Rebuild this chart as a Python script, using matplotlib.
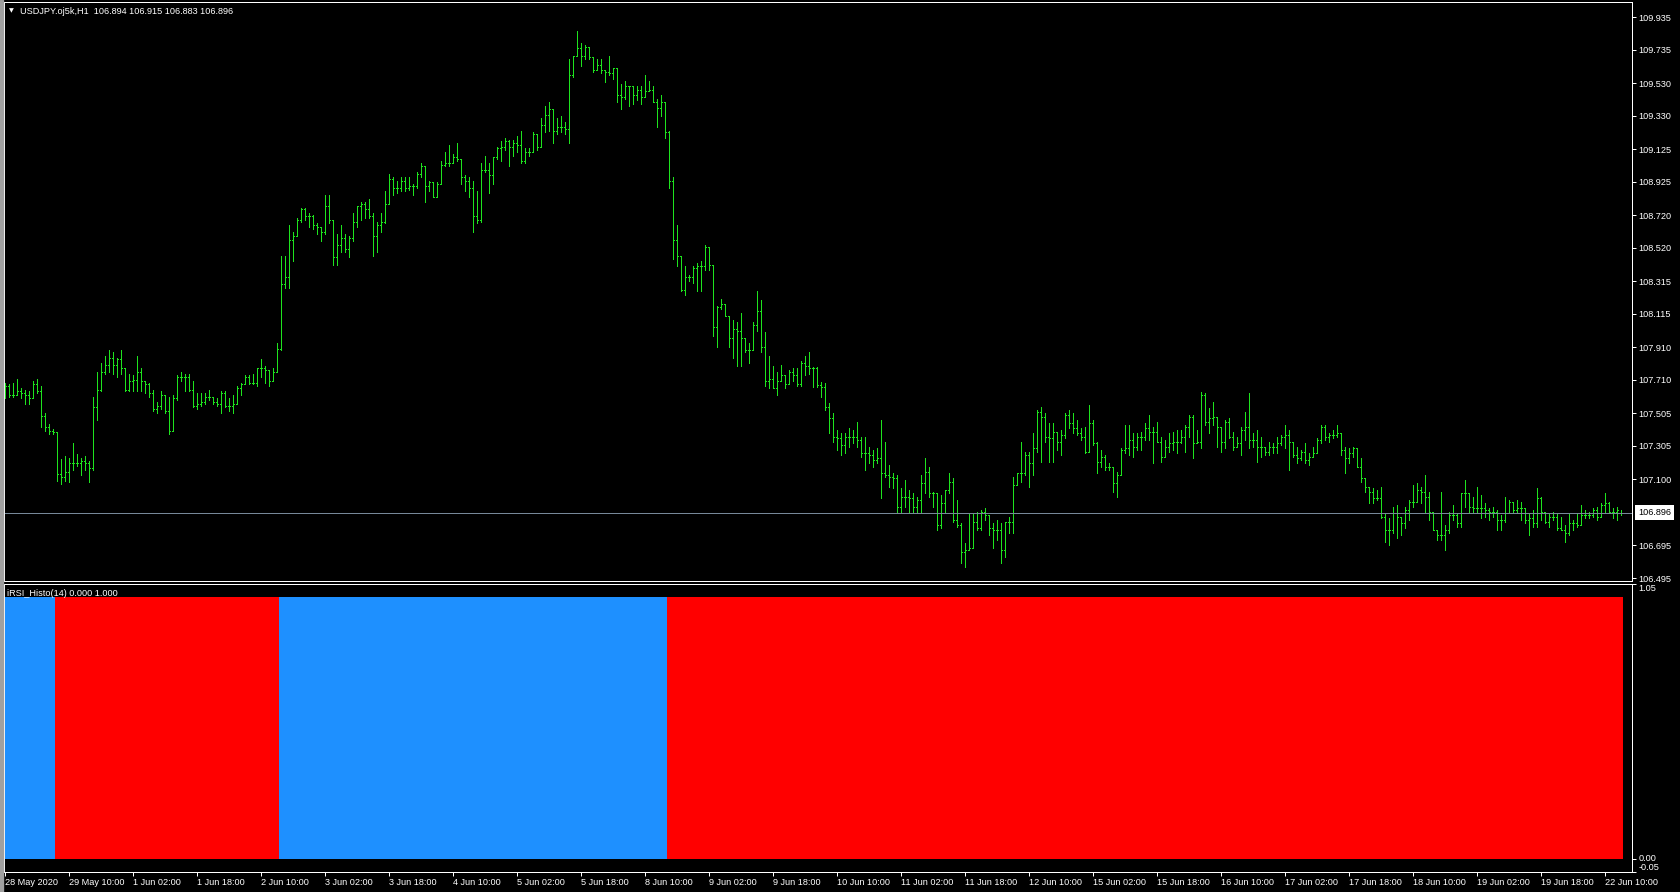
import numpy as np
import matplotlib.pyplot as plt
from matplotlib.collections import LineCollection
from matplotlib.patches import Rectangle

plt.rcParams['font.family'] = ['Liberation Sans', 'DejaVu Sans']

symbol_title = 'USDJPY.oj5k,H1  106.894 106.915 106.883 106.896'
indicator_title = 'iRSI_Histo(14) 0.000 1.000'
last_price = 106.896

# hourly bars, 28 May 18:00 -> 22 Jun 14:00 (405 bars)
opens = [
    107.690, 107.672, 107.618, 107.618, 107.639, 107.629, 107.618, 107.596, 107.683, 107.639,
    107.486, 107.421, 107.399, 107.388, 107.136, 107.114, 107.147, 107.201, 107.201, 107.201,
    107.212, 107.201, 107.169, 107.541, 107.650, 107.760, 107.804, 107.847, 107.804, 107.836,
    107.782, 107.650, 107.705, 107.709, 107.760, 107.705, 107.683, 107.629, 107.530, 107.552,
    107.618, 107.519, 107.399, 107.596, 107.727, 107.727, 107.727, 107.650, 107.552, 107.563,
    107.574, 107.607, 107.607, 107.574, 107.563, 107.629, 107.552, 107.552, 107.563, 107.661,
    107.683, 107.727, 107.694, 107.694, 107.782, 107.782, 107.771, 107.705, 107.760, 107.902,
    108.296, 108.340, 108.570, 108.592, 108.691, 108.756, 108.713, 108.713, 108.658, 108.647,
    108.614, 108.778, 108.691, 108.461, 108.537, 108.581, 108.515, 108.581, 108.680, 108.778,
    108.789, 108.756, 108.713, 108.592, 108.658, 108.680, 108.789, 108.942, 108.888, 108.888,
    108.932, 108.888, 108.899, 108.899, 108.975, 109.019, 108.899, 108.921, 108.833, 108.910,
    109.030, 109.041, 109.041, 109.074, 109.063, 108.953, 108.932, 108.888, 108.713, 108.691,
    108.997, 108.997, 108.964, 109.074, 109.129, 109.140, 109.172, 109.140, 109.161, 109.151,
    109.052, 109.107, 109.107, 109.216, 109.140, 109.271, 109.337, 109.370, 109.238, 109.260,
    109.260, 109.249, 109.578, 109.698, 109.742, 109.698, 109.753, 109.687, 109.610, 109.643,
    109.610, 109.599, 109.589, 109.621, 109.457, 109.446, 109.512, 109.512, 109.457, 109.490,
    109.446, 109.479, 109.490, 109.413, 109.380, 109.413, 109.227, 108.932, 108.570, 108.472,
    108.264, 108.340, 108.340, 108.395, 108.406, 108.406, 108.526, 108.417, 108.034, 108.154,
    108.176, 108.099, 107.968, 108.023, 108.012, 107.968, 107.891, 107.891, 108.045, 108.132,
    107.913, 107.705, 107.716, 107.661, 107.705, 107.738, 107.683, 107.760, 107.738, 107.683,
    107.815, 107.793, 107.782, 107.781, 107.679, 107.669, 107.546, 107.474, 107.362, 107.352,
    107.311, 107.362, 107.362, 107.362, 107.342, 107.260, 107.260, 107.250, 107.219, 107.229,
    107.137, 107.127, 107.117, 107.107, 106.933, 106.994, 106.994, 106.984, 106.933, 106.974,
    107.076, 107.147, 107.015, 107.015, 106.820, 106.953, 107.035, 107.086, 106.851, 106.820,
    106.657, 106.667, 106.677, 106.841, 106.800, 106.902, 106.882, 106.800, 106.790, 106.790,
    106.667, 106.841, 106.841, 107.066, 107.137, 107.137, 107.250, 107.199, 107.291, 107.515,
    107.485, 107.362, 107.352, 107.393, 107.331, 107.372, 107.495, 107.444, 107.413, 107.383,
    107.362, 107.270, 107.444, 107.321, 107.209, 107.239, 107.178, 107.178, 107.076, 107.127,
    107.280, 107.291, 107.342, 107.301, 107.362, 107.362, 107.413, 107.393, 107.393, 107.331,
    107.239, 107.301, 107.321, 107.331, 107.331, 107.362, 107.423, 107.485, 107.321, 107.331,
    107.618, 107.454, 107.474, 107.485, 107.423, 107.331, 107.454, 107.362, 107.301, 107.321,
    107.403, 107.423, 107.342, 107.342, 107.301, 107.301, 107.270, 107.301, 107.301, 107.321,
    107.362, 107.372, 107.331, 107.250, 107.229, 107.270, 107.219, 107.239, 107.260, 107.342,
    107.423, 107.362, 107.372, 107.372, 107.383, 107.280, 107.229, 107.260, 107.291, 107.178,
    107.107, 107.056, 107.025, 106.984, 106.984, 106.872, 106.790, 106.790, 106.892, 106.872,
    106.831, 106.912, 106.964, 106.964, 107.035, 107.025, 106.994, 106.902, 106.790, 106.759,
    106.759, 106.790, 106.882, 106.882, 106.831, 107.015, 107.015, 106.933, 106.923, 106.923,
    106.923, 106.912, 106.902, 106.902, 106.851, 106.851, 106.892, 106.964, 106.912, 106.923,
    106.923, 106.851, 106.861, 106.831, 106.984, 106.902, 106.841, 106.872, 106.872, 106.800,
    106.790, 106.769, 106.831, 106.831, 106.820, 106.882, 106.882, 106.882, 106.912, 106.872,
    106.943, 106.953, 106.902, 106.902, 106.894,
]
highs = [
    107.694, 107.683, 107.694, 107.716, 107.661, 107.650, 107.639, 107.705, 107.716, 107.672,
    107.508, 107.442, 107.410, 107.388, 107.223, 107.245, 107.234, 107.322, 107.256, 107.234,
    107.245, 107.212, 107.607, 107.760, 107.815, 107.858, 107.891, 107.880, 107.847, 107.891,
    107.727, 107.749, 107.738, 107.858, 107.782, 107.705, 107.694, 107.650, 107.574, 107.639,
    107.618, 107.607, 107.618, 107.738, 107.760, 107.749, 107.749, 107.705, 107.629, 107.629,
    107.629, 107.650, 107.607, 107.596, 107.639, 107.639, 107.596, 107.618, 107.672, 107.694,
    107.738, 107.738, 107.749, 107.782, 107.836, 107.793, 107.771, 107.782, 107.935, 108.472,
    108.472, 108.658, 108.614, 108.702, 108.767, 108.767, 108.734, 108.723, 108.669, 108.647,
    108.844, 108.844, 108.691, 108.603, 108.658, 108.603, 108.592, 108.734, 108.778, 108.800,
    108.800, 108.822, 108.734, 108.680, 108.734, 108.866, 108.975, 108.953, 108.932, 108.953,
    108.953, 108.953, 108.910, 108.986, 109.041, 108.997, 108.932, 108.921, 108.921, 109.052,
    109.107, 109.151, 109.096, 109.161, 109.063, 108.964, 108.953, 108.932, 108.866, 109.041,
    109.085, 109.041, 109.074, 109.140, 109.172, 109.194, 109.183, 109.183, 109.205, 109.238,
    109.129, 109.129, 109.227, 109.216, 109.315, 109.391, 109.413, 109.282, 109.315, 109.326,
    109.293, 109.676, 109.698, 109.851, 109.775, 109.764, 109.753, 109.665, 109.676, 109.676,
    109.610, 109.698, 109.621, 109.621, 109.523, 109.545, 109.512, 109.512, 109.512, 109.512,
    109.578, 109.545, 109.512, 109.435, 109.457, 109.413, 109.238, 108.953, 108.658, 108.472,
    108.406, 108.351, 108.406, 108.428, 108.439, 108.537, 108.515, 108.417, 108.165, 108.209,
    108.176, 108.099, 108.077, 108.066, 108.121, 107.946, 107.935, 108.066, 108.253, 108.198,
    108.001, 107.858, 107.793, 107.760, 107.804, 107.738, 107.771, 107.782, 107.782, 107.826,
    107.858, 107.880, 107.791, 107.791, 107.699, 107.689, 107.566, 107.505, 107.403, 107.383,
    107.383, 107.413, 107.403, 107.454, 107.362, 107.362, 107.301, 107.280, 107.291, 107.464,
    107.331, 107.188, 107.137, 107.127, 107.045, 107.096, 107.035, 107.015, 106.994, 107.127,
    107.229, 107.178, 107.025, 106.994, 107.004, 107.035, 107.137, 107.107, 106.974, 106.831,
    106.708, 106.892, 106.892, 106.902, 106.912, 106.923, 106.882, 106.831, 106.851, 106.831,
    106.841, 106.872, 107.117, 107.137, 107.331, 107.270, 107.270, 107.383, 107.526, 107.546,
    107.505, 107.444, 107.444, 107.383, 107.403, 107.505, 107.526, 107.505, 107.464, 107.413,
    107.423, 107.556, 107.464, 107.331, 107.280, 107.250, 107.199, 107.168, 107.147, 107.291,
    107.434, 107.434, 107.383, 107.383, 107.393, 107.444, 107.495, 107.423, 107.454, 107.362,
    107.342, 107.383, 107.393, 107.403, 107.403, 107.434, 107.495, 107.495, 107.403, 107.638,
    107.628, 107.536, 107.577, 107.454, 107.393, 107.464, 107.474, 107.393, 107.362, 107.423,
    107.515, 107.628, 107.383, 107.403, 107.362, 107.301, 107.331, 107.321, 107.362, 107.372,
    107.434, 107.403, 107.321, 107.301, 107.280, 107.321, 107.260, 107.301, 107.352, 107.434,
    107.434, 107.383, 107.403, 107.434, 107.383, 107.301, 107.291, 107.301, 107.291, 107.229,
    107.107, 107.056, 107.045, 107.035, 107.056, 106.892, 106.861, 106.933, 106.943, 106.872,
    106.933, 106.974, 107.066, 107.076, 107.056, 107.127, 107.025, 106.902, 106.790, 107.025,
    106.820, 106.902, 106.943, 106.892, 107.015, 107.096, 106.974, 106.994, 107.056, 107.004,
    106.953, 106.923, 106.933, 106.912, 106.882, 106.994, 106.974, 106.953, 106.974, 106.964,
    106.912, 106.892, 106.912, 107.045, 106.994, 106.902, 106.892, 106.902, 106.892, 106.872,
    106.820, 106.892, 106.851, 106.892, 106.943, 106.912, 106.902, 106.923, 106.933, 106.953,
    107.015, 106.964, 106.923, 106.933, 106.915,
]
lows = [
    107.596, 107.607, 107.607, 107.629, 107.596, 107.563, 107.563, 107.596, 107.629, 107.421,
    107.399, 107.377, 107.377, 107.092, 107.070, 107.092, 107.081, 107.158, 107.180, 107.125,
    107.158, 107.081, 107.158, 107.464, 107.639, 107.749, 107.760, 107.749, 107.727, 107.749,
    107.639, 107.639, 107.639, 107.639, 107.639, 107.629, 107.607, 107.519, 107.508, 107.530,
    107.508, 107.377, 107.399, 107.585, 107.705, 107.639, 107.639, 107.541, 107.530, 107.552,
    107.563, 107.585, 107.563, 107.552, 107.508, 107.541, 107.519, 107.508, 107.563, 107.618,
    107.683, 107.683, 107.683, 107.672, 107.727, 107.694, 107.672, 107.705, 107.760, 107.891,
    108.275, 108.275, 108.439, 108.603, 108.680, 108.691, 108.647, 108.636, 108.603, 108.559,
    108.603, 108.669, 108.417, 108.417, 108.494, 108.494, 108.461, 108.559, 108.647, 108.691,
    108.702, 108.702, 108.472, 108.494, 108.614, 108.669, 108.789, 108.844, 108.855, 108.866,
    108.866, 108.877, 108.844, 108.888, 108.953, 108.800, 108.866, 108.833, 108.833, 108.910,
    109.019, 109.019, 109.041, 109.052, 108.910, 108.866, 108.833, 108.614, 108.669, 108.680,
    108.986, 108.855, 108.910, 109.063, 109.052, 109.118, 109.019, 109.085, 109.107, 109.041,
    109.041, 109.085, 109.107, 109.118, 109.183, 109.227, 109.238, 109.161, 109.216, 109.227,
    109.216, 109.161, 109.567, 109.698, 109.632, 109.676, 109.676, 109.599, 109.610, 109.589,
    109.534, 109.578, 109.556, 109.413, 109.370, 109.435, 109.391, 109.402, 109.424, 109.402,
    109.446, 109.479, 109.413, 109.260, 109.326, 109.194, 108.888, 108.450, 108.406, 108.253,
    108.231, 108.318, 108.307, 108.253, 108.253, 108.384, 108.384, 107.979, 107.913, 108.143,
    108.099, 107.913, 107.847, 107.793, 107.793, 107.880, 107.815, 107.891, 108.012, 107.880,
    107.672, 107.661, 107.661, 107.618, 107.705, 107.661, 107.683, 107.705, 107.672, 107.672,
    107.738, 107.749, 107.669, 107.669, 107.607, 107.526, 107.383, 107.331, 107.280, 107.250,
    107.260, 107.301, 107.321, 107.301, 107.239, 107.158, 107.199, 107.178, 107.199, 106.984,
    107.117, 107.056, 107.045, 106.892, 106.892, 106.933, 106.892, 106.892, 106.892, 106.892,
    107.015, 106.994, 106.933, 106.790, 106.800, 106.892, 107.015, 106.841, 106.810, 106.585,
    106.565, 106.667, 106.677, 106.790, 106.790, 106.851, 106.759, 106.677, 106.729, 106.585,
    106.626, 106.769, 106.769, 107.066, 107.086, 107.127, 107.056, 107.127, 107.270, 107.209,
    107.331, 107.209, 107.209, 107.280, 107.250, 107.352, 107.413, 107.383, 107.372, 107.342,
    107.260, 107.301, 107.311, 107.137, 107.178, 107.158, 107.158, 107.025, 106.994, 107.127,
    107.260, 107.250, 107.239, 107.280, 107.280, 107.342, 107.342, 107.199, 107.331, 107.209,
    107.239, 107.270, 107.280, 107.260, 107.321, 107.270, 107.362, 107.229, 107.331, 107.291,
    107.434, 107.383, 107.434, 107.301, 107.270, 107.291, 107.352, 107.280, 107.301, 107.250,
    107.342, 107.291, 107.301, 107.209, 107.239, 107.250, 107.250, 107.260, 107.260, 107.311,
    107.291, 107.158, 107.239, 107.199, 107.219, 107.199, 107.188, 107.239, 107.260, 107.321,
    107.342, 107.331, 107.352, 107.362, 107.250, 107.137, 107.199, 107.239, 107.178, 107.086,
    107.025, 106.953, 106.953, 106.974, 106.861, 106.718, 106.698, 106.769, 106.739, 106.759,
    106.800, 106.851, 106.933, 106.994, 106.953, 106.892, 106.851, 106.790, 106.729, 106.729,
    106.667, 106.769, 106.851, 106.810, 106.810, 106.933, 106.892, 106.892, 106.892, 106.861,
    106.872, 106.851, 106.872, 106.790, 106.790, 106.841, 106.892, 106.902, 106.892, 106.851,
    106.831, 106.759, 106.810, 106.810, 106.851, 106.831, 106.810, 106.851, 106.790, 106.790,
    106.718, 106.759, 106.790, 106.810, 106.851, 106.861, 106.861, 106.872, 106.851, 106.892,
    106.892, 106.892, 106.861, 106.851, 106.883,
]
closes = [
    107.672, 107.618, 107.618, 107.639, 107.629, 107.618, 107.596, 107.683, 107.639, 107.486,
    107.421, 107.399, 107.388, 107.136, 107.114, 107.147, 107.201, 107.201, 107.201, 107.212,
    107.201, 107.169, 107.541, 107.650, 107.760, 107.804, 107.847, 107.804, 107.836, 107.782,
    107.650, 107.705, 107.709, 107.760, 107.705, 107.683, 107.629, 107.530, 107.552, 107.618,
    107.519, 107.399, 107.596, 107.727, 107.727, 107.727, 107.650, 107.552, 107.563, 107.574,
    107.607, 107.607, 107.574, 107.563, 107.629, 107.552, 107.552, 107.563, 107.661, 107.683,
    107.727, 107.694, 107.694, 107.782, 107.782, 107.771, 107.705, 107.760, 107.902, 108.296,
    108.340, 108.570, 108.592, 108.691, 108.756, 108.713, 108.713, 108.658, 108.647, 108.614,
    108.778, 108.691, 108.461, 108.537, 108.581, 108.515, 108.581, 108.680, 108.778, 108.789,
    108.756, 108.713, 108.592, 108.658, 108.680, 108.789, 108.942, 108.888, 108.888, 108.932,
    108.888, 108.899, 108.899, 108.975, 109.019, 108.899, 108.921, 108.833, 108.910, 109.030,
    109.041, 109.041, 109.074, 109.063, 108.953, 108.932, 108.888, 108.713, 108.691, 108.997,
    108.997, 108.964, 109.074, 109.129, 109.140, 109.172, 109.140, 109.161, 109.151, 109.052,
    109.107, 109.107, 109.216, 109.140, 109.271, 109.337, 109.370, 109.238, 109.260, 109.260,
    109.249, 109.578, 109.698, 109.742, 109.698, 109.753, 109.687, 109.610, 109.643, 109.610,
    109.599, 109.589, 109.621, 109.457, 109.446, 109.512, 109.512, 109.457, 109.490, 109.446,
    109.479, 109.490, 109.413, 109.380, 109.413, 109.227, 108.932, 108.570, 108.472, 108.264,
    108.340, 108.340, 108.395, 108.406, 108.406, 108.526, 108.417, 108.034, 108.154, 108.176,
    108.099, 107.968, 108.023, 108.012, 107.968, 107.891, 107.891, 108.045, 108.132, 107.913,
    107.705, 107.716, 107.661, 107.705, 107.738, 107.683, 107.760, 107.738, 107.683, 107.815,
    107.793, 107.782, 107.781, 107.679, 107.669, 107.546, 107.474, 107.362, 107.352, 107.311,
    107.362, 107.362, 107.362, 107.342, 107.260, 107.260, 107.250, 107.219, 107.229, 107.137,
    107.127, 107.117, 107.107, 106.933, 106.994, 106.994, 106.984, 106.933, 106.974, 107.076,
    107.147, 107.015, 107.015, 106.820, 106.953, 107.035, 107.086, 106.851, 106.820, 106.657,
    106.667, 106.677, 106.841, 106.800, 106.902, 106.882, 106.800, 106.790, 106.790, 106.667,
    106.841, 106.841, 107.066, 107.137, 107.137, 107.250, 107.199, 107.291, 107.515, 107.485,
    107.362, 107.352, 107.393, 107.331, 107.372, 107.495, 107.444, 107.413, 107.383, 107.362,
    107.270, 107.444, 107.321, 107.209, 107.239, 107.178, 107.178, 107.076, 107.127, 107.280,
    107.291, 107.342, 107.301, 107.362, 107.362, 107.413, 107.393, 107.393, 107.331, 107.239,
    107.301, 107.321, 107.331, 107.331, 107.362, 107.423, 107.485, 107.321, 107.331, 107.618,
    107.454, 107.474, 107.485, 107.423, 107.331, 107.454, 107.362, 107.301, 107.321, 107.403,
    107.423, 107.342, 107.342, 107.301, 107.301, 107.270, 107.301, 107.301, 107.321, 107.362,
    107.372, 107.331, 107.250, 107.229, 107.270, 107.219, 107.239, 107.260, 107.342, 107.423,
    107.362, 107.372, 107.372, 107.383, 107.280, 107.229, 107.260, 107.291, 107.178, 107.107,
    107.056, 107.025, 106.984, 106.984, 106.872, 106.790, 106.790, 106.892, 106.872, 106.831,
    106.912, 106.964, 106.964, 107.035, 107.025, 106.994, 106.902, 106.790, 106.759, 106.759,
    106.790, 106.882, 106.882, 106.831, 107.015, 107.015, 106.933, 106.923, 106.923, 106.923,
    106.912, 106.902, 106.902, 106.851, 106.851, 106.892, 106.964, 106.912, 106.923, 106.923,
    106.851, 106.861, 106.831, 106.984, 106.902, 106.841, 106.872, 106.872, 106.800, 106.790,
    106.769, 106.831, 106.831, 106.820, 106.882, 106.882, 106.882, 106.912, 106.872, 106.943,
    106.953, 106.902, 106.902, 106.912, 106.896,
]

# iRSI_Histo runs: (number of bars, state) -> 1 = above level (blue), 0 = below (red)
rsi_runs = [(13, 1), (56, 0), (97, 1), (239, 0)]

price_ticks = [109.935, 109.735, 109.530, 109.330, 109.125, 108.925, 108.720, 108.520,
               108.315, 108.115, 107.910, 107.710, 107.505, 107.305, 107.100, 106.695, 106.495]
ind_ticks = [1.05, 0.00, -0.05]

time_tick_bars = list(range(0, 401, 16))
time_tick_labels = ['28 May 2020', '29 May 10:00', '1 Jun 02:00', '1 Jun 18:00', '2 Jun 10:00',
                    '3 Jun 02:00', '3 Jun 18:00', '4 Jun 10:00', '5 Jun 02:00', '5 Jun 18:00',
                    '8 Jun 10:00', '9 Jun 02:00', '9 Jun 18:00', '10 Jun 10:00', '11 Jun 02:00',
                    '11 Jun 18:00', '12 Jun 10:00', '15 Jun 02:00', '15 Jun 18:00', '16 Jun 10:00',
                    '17 Jun 02:00', '17 Jun 18:00', '18 Jun 10:00', '19 Jun 02:00', '19 Jun 18:00',
                    '22 Jun 10:00']

BAR_GREEN = '#1ee31e'
UP_BLUE = '#1e90ff'
DOWN_RED = '#ff0000'
FS = 6.6
PX = 0.72  # one pixel in points at 100 dpi

W, H = 1680, 892
fig = plt.figure(figsize=(W / 100, H / 100), dpi=100, facecolor='black')


def px_axes(x0, y0, x1, y1):
    return fig.add_axes([x0 / W, 1 - y1 / H, (x1 - x0) / W, (y1 - y0) / H])


ax = px_axes(4, 2, 1632, 581)
ax2 = px_axes(4, 584, 1632, 872)

for a in (ax, ax2):
    a.set_facecolor('black')
    for sp in a.spines.values():
        sp.set_color('white')
        sp.set_linewidth(PX)
    a.set_xlim(-0.25, 406.75)

# --- price bars
o = np.array(opens)
c = np.array(closes)
hi = np.maximum.reduce([np.array(highs), o, c])
lo = np.minimum.reduce([np.array(lows), o, c])
idx = np.arange(len(c))
segs = []
for i in idx:
    segs.append([(i, lo[i]), (i, hi[i])])
    segs.append([(i - 0.25, o[i]), (i, o[i])])
    segs.append([(i, c[i]), (i + 0.25, c[i])])
ax.add_collection(LineCollection(segs, colors=BAR_GREEN, linewidths=PX, antialiaseds=False))

ax.axhline(last_price, color='#778899', lw=PX)
ax.set_ylim(106.477, 110.027)
ax.yaxis.tick_right()
ax.set_yticks(price_ticks)
ax.set_yticklabels([f'{t:.3f}' for t in price_ticks])
ax.tick_params(axis='y', colors='white', length=3, width=PX, pad=1.5, labelsize=FS)
ax.tick_params(axis='x', bottom=False, labelbottom=False)
ax.annotate(f'{last_price:.3f}', xy=(1, last_price), xycoords=('axes fraction', 'data'),
            xytext=(6, 0), textcoords='offset pixels', ha='left', va='center',
            fontsize=FS, color='black', annotation_clip=False,
            bbox=dict(boxstyle='square,pad=0.3', fc='white', ec='none'))

# --- RSI histogram (one column per bar, centred on the bar)
states = np.concatenate([np.full(n, s) for n, s in rsi_runs])
hist_colors = [UP_BLUE if s == 1 else DOWN_RED for s in states]
ax2.bar(np.arange(len(states)), np.ones(len(states)), width=1.0, align='center',
        color=hist_colors, linewidth=0, antialiased=False)
ax2.set_ylim(-0.05, 1.05)
ax2.set_xlim(-0.25, 406.75)
ax2.yaxis.tick_right()
ax2.set_yticks(ind_ticks)
ax2.set_yticklabels([f'{t:.2f}' for t in ind_ticks])
for lab, va in zip(ax2.get_yticklabels(), ['top', 'center', 'bottom']):
    lab.set_va(va)
ax2.tick_params(axis='y', colors='white', length=3, width=PX, pad=1.5, labelsize=FS)
ax2.set_xticks(time_tick_bars)
ax2.set_xticklabels(time_tick_labels)
for lab in ax2.get_xticklabels():
    lab.set_ha('left')
ax2.tick_params(axis='x', colors='white', length=3, width=PX, pad=1, labelsize=FS)

# --- window texts
fig.text(9 / W, 1 - 11 / H, '▼', fontsize=4.5, color='white', va='center', ha='left',
         family='DejaVu Sans')
fig.text(20 / W, 1 - 11 / H, symbol_title, fontsize=FS, color='white', va='center', ha='left')
fig.text(7 / W, 1 - 593 / H, indicator_title, fontsize=FS, color='white', va='center', ha='left')
fig.patches.append(Rectangle((0, 0), 3 / W, 1, transform=fig.transFigure, color='#a0a0a0'))

fig.savefig('out.png', dpi=100, facecolor='black')
